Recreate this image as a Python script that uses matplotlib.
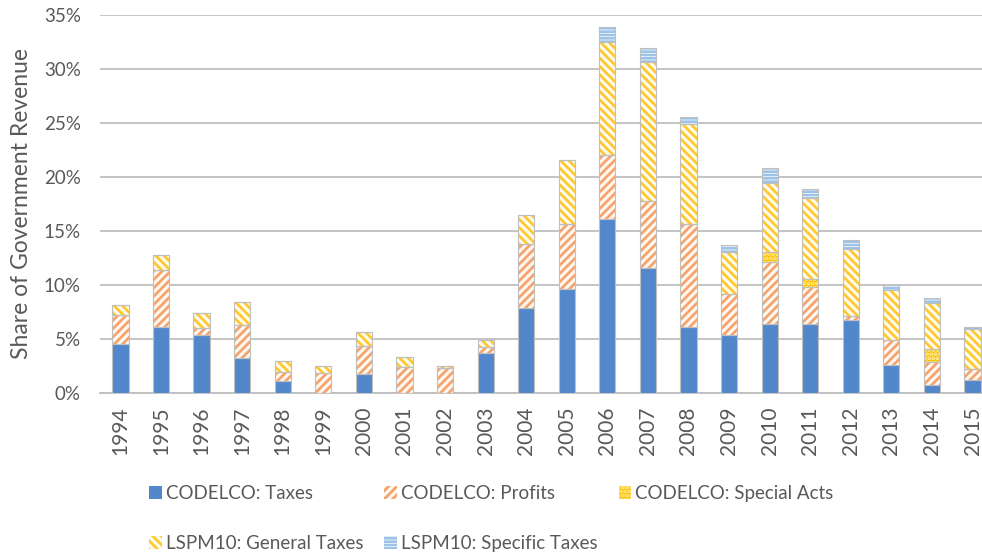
import matplotlib
matplotlib.use('Agg')

import matplotlib.pyplot as plt
import numpy as np
from matplotlib.ticker import FuncFormatter

plt.rcParams['font.family'] = ['Lato', 'DejaVu Sans']
plt.rcParams['hatch.linewidth'] = 1.9

years = [str(y) for y in range(1994, 2016)]

# shares of government revenue, percent
codelco_taxes = [4.5, 6.1, 5.3, 3.2, 1.1, 0.0, 1.7, 0.0, 0.0, 3.65, 7.8,
                 9.6, 16.1, 11.55, 6.1, 5.3, 6.4, 6.4, 6.7, 2.55, 0.7, 1.15]
codelco_profits = [2.7, 5.3, 0.7, 3.1, 0.85, 1.8, 2.65, 2.4, 2.25, 0.6, 6.0,
                   6.0, 5.9, 6.25, 9.5, 3.8, 5.7, 3.4, 0.35, 2.35, 2.15, 1.0]
codelco_special = [0, 0, 0, 0, 0, 0, 0, 0, 0, 0, 0,
                   0, 0, 0, 0, 0, 0.9, 0.7, 0, 0, 1.15, 0]
lspm_general = [0.9, 1.35, 1.4, 2.1, 1.0, 0.7, 1.25, 0.9, 0.22, 0.6, 2.7,
                6.0, 10.5, 12.8, 9.3, 3.9, 6.4, 7.5, 6.3, 4.6, 4.3, 3.75]
lspm_specific = [0, 0, 0, 0, 0, 0, 0, 0, 0, 0, 0,
                 0, 1.4, 1.3, 0.6, 0.65, 1.4, 0.9, 0.75, 0.45, 0.5, 0.15]

series = [
    ('CODELCO: Taxes', codelco_taxes, '#5387CC', '#5387CC', None),
    ('CODELCO: Profits', codelco_profits, '#FFF6EE', '#F4A26C', '////'),
    ('CODELCO: Special Acts', codelco_special, '#FFC000', '#FFF0A8', '....'),
    ('LSPM10: General Taxes', lspm_general, '#FFFBEA', '#FFC72C', '\\\\\\\\'),
    ('LSPM10: Specific Taxes', lspm_specific, 'white', '#9DC3E6', '-----'),
]

TXT = '#595959'
GRID = '#BFBFBF'

fig = plt.figure(figsize=(9.82, 5.56), dpi=100)
ax = fig.add_axes([0.102, 0.294, 0.909, 0.679])

x = np.arange(len(years))
width = 0.40
bottom = np.zeros(len(years))
handles = []
for label, vals, face, edge, hatch in series:
    vals = np.array(vals, dtype=float)
    b = ax.bar(x, vals, width, bottom=bottom, color=face, edgecolor=edge,
               hatch=hatch, linewidth=0, label=label, zorder=3)
    # thin grey outline drawn over the hatched segment
    ax.bar(x, vals, width, bottom=bottom, facecolor='none',
           edgecolor=GRID, linewidth=0.8, zorder=4)
    handles.append(b)
    bottom += vals

ax.set_xlim(-0.5, len(years) - 0.5)
ax.set_ylim(0, 35)
ax.set_yticks(np.arange(0, 36, 5))
ax.yaxis.set_major_formatter(FuncFormatter(lambda v, _: f'{v:.0f}%'))
ax.set_xticks(x)
ax.set_xticklabels(years, rotation=90)

ax.grid(axis='y', color=GRID, linewidth=1.3, zorder=0)
for s in ['top', 'right', 'left']:
    ax.spines[s].set_visible(False)
ax.spines['bottom'].set_color(GRID)
ax.spines['bottom'].set_linewidth(1.3)
ax.tick_params(axis='both', length=0, labelsize=13.5, colors=TXT)
ax.tick_params(axis='x', labelsize=15, pad=10)
ax.tick_params(axis='y', pad=14)

ax.set_ylabel('Share of Government Revenue', fontsize=16.5, color=TXT,
              labelpad=8)

order = [0, 3, 1, 4, 2]
fig.legend([handles[i] for i in order], [series[i][0] for i in order],
           loc='upper left', bbox_to_anchor=(0.135, 0.158),
           ncol=3, frameon=False, fontsize=13.5, labelcolor=TXT,
           handlelength=0.65, handleheight=0.65, handletextpad=0.25,
           columnspacing=1.1, labelspacing=1.75)

fig.savefig('out.png', dpi=100)
